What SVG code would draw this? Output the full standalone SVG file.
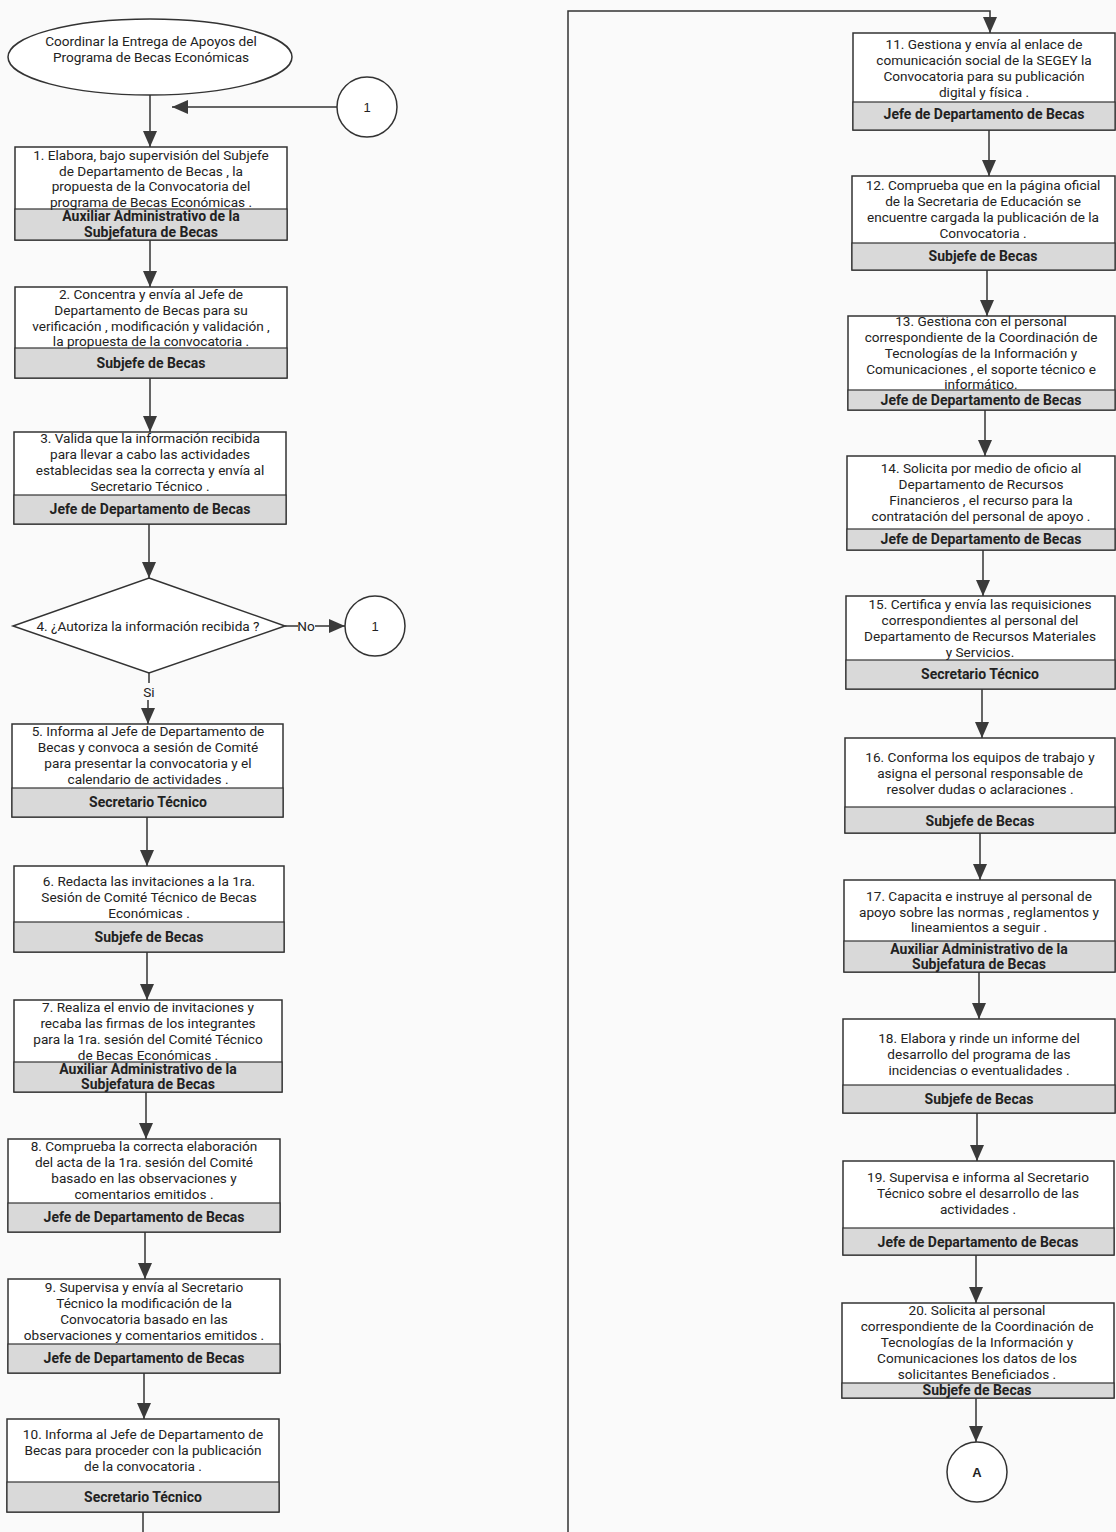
<svg xmlns="http://www.w3.org/2000/svg" width="1116" height="1532" viewBox="0 0 1116 1532">
<style>
.bg{fill:#fafafa}
.box{fill:#ffffff;stroke:#333;stroke-width:1.5}
.band{fill:#d9d9d9;stroke:#333;stroke-width:1.2}
.ln{fill:none;stroke:#333;stroke-width:1.5}
.t{font-family:Roboto,"Liberation Sans",sans-serif;font-size:13.6px;fill:#222;text-anchor:middle}
.b{font-family:Roboto,"Liberation Sans",sans-serif;font-size:14px;font-weight:bold;fill:#222;text-anchor:middle}
.c{font-family:"Liberation Sans",sans-serif;font-size:13px;fill:#222;text-anchor:middle}
</style>
<defs>
<marker id="ah" markerWidth="16" markerHeight="14" refX="16" refY="7" orient="auto" markerUnits="userSpaceOnUse">
<path d="M0,0 L16,7 L0,14 Z" fill="#3a3a3a"/>
</marker>
</defs>
<rect class="bg" x="0" y="0" width="1116" height="1532"/>

<g id="connectors">
<line class="ln" x1="150" y1="95" x2="150" y2="147" marker-end="url(#ah)"/>
<line class="ln" x1="337" y1="107" x2="172" y2="107" marker-end="url(#ah)"/>
<line class="ln" x1="150" y1="240" x2="150" y2="287" marker-end="url(#ah)"/>
<line class="ln" x1="150" y1="378" x2="150" y2="432" marker-end="url(#ah)"/>
<line class="ln" x1="149" y1="524" x2="149" y2="578" marker-end="url(#ah)"/>
<line class="ln" x1="285" y1="626" x2="298" y2="626"/>
<line class="ln" x1="315" y1="626" x2="345" y2="626" marker-end="url(#ah)"/>
<line class="ln" x1="149" y1="673" x2="149" y2="683"/>
<line class="ln" x1="148" y1="700" x2="148" y2="724" marker-end="url(#ah)"/>
<line class="ln" x1="147" y1="817" x2="147" y2="866" marker-end="url(#ah)"/>
<line class="ln" x1="147" y1="952" x2="147" y2="1000" marker-end="url(#ah)"/>
<line class="ln" x1="146" y1="1092" x2="146" y2="1139" marker-end="url(#ah)"/>
<line class="ln" x1="145" y1="1232" x2="145" y2="1279" marker-end="url(#ah)"/>
<line class="ln" x1="144" y1="1373" x2="144" y2="1419" marker-end="url(#ah)"/>
<line class="ln" x1="143" y1="1512" x2="143" y2="1532"/>
<path class="ln" d="M568,1532 V11 H990 V33" marker-end="url(#ah)"/>
<line class="ln" x1="989" y1="130" x2="989" y2="176" marker-end="url(#ah)"/>
<line class="ln" x1="987" y1="270" x2="987" y2="316" marker-end="url(#ah)"/>
<line class="ln" x1="985" y1="410" x2="985" y2="456" marker-end="url(#ah)"/>
<line class="ln" x1="983" y1="550" x2="983" y2="596" marker-end="url(#ah)"/>
<line class="ln" x1="982" y1="689" x2="982" y2="738" marker-end="url(#ah)"/>
<line class="ln" x1="980" y1="833" x2="980" y2="880" marker-end="url(#ah)"/>
<line class="ln" x1="979" y1="972" x2="979" y2="1019" marker-end="url(#ah)"/>
<line class="ln" x1="977" y1="1113" x2="977" y2="1161" marker-end="url(#ah)"/>
<line class="ln" x1="976" y1="1255" x2="976" y2="1303" marker-end="url(#ah)"/>
<line class="ln" x1="976" y1="1398" x2="976" y2="1442" marker-end="url(#ah)"/>
<text class="t" x="306" y="631">No</text>
<text class="t" x="149" y="697">Si</text>
</g>

<g id="start">
<ellipse cx="150" cy="57" rx="142" ry="38" fill="#fff" stroke="#333" stroke-width="1.5"/>
<text class="t" x="151" y="46">Coordinar la Entrega de Apoyos del</text>
<text class="t" x="151" y="62">Programa de Becas Económicas</text>
</g>

<g id="conn1top">
<circle cx="367" cy="107" r="30" fill="#fff" stroke="#333" stroke-width="1.5"/>
<text class="c" x="367" y="112">1</text>
</g>

<g id="n1">
<rect class="box" x="15" y="147" width="272" height="93"/>
<rect class="band" x="15" y="209" width="272" height="31"/>
<text class="t" x="151" y="160">1. Elabora, bajo supervisión del Subjefe</text>
<text class="t" x="151" y="176">de Departamento de Becas , la</text>
<text class="t" x="151" y="191">propuesta de la Convocatoria del</text>
<text class="t" x="151" y="207">programa de Becas Económicas .</text>
<text class="b" x="151" y="221">Auxiliar Administrativo de la</text>
<text class="b" x="151" y="237">Subjefatura de Becas</text>
</g>

<g id="n2">
<rect class="box" x="15" y="287" width="272" height="91"/>
<rect class="band" x="15" y="348" width="272" height="30"/>
<text class="t" x="151" y="299">2. Concentra y envía al Jefe de</text>
<text class="t" x="151" y="315">Departamento de Becas para su</text>
<text class="t" x="151" y="331">verificación , modificación y validación ,</text>
<text class="t" x="151" y="346">la propuesta de la convocatoria .</text>
<text class="b" x="151" y="368">Subjefe de Becas</text>
</g>

<g id="n3">
<rect class="box" x="14" y="432" width="272" height="92"/>
<rect class="band" x="14" y="495" width="272" height="29"/>
<text class="t" x="150" y="443">3. Valida que la información recibida</text>
<text class="t" x="150" y="459">para llevar a cabo las actividades</text>
<text class="t" x="150" y="475">establecidas sea la correcta y envía al</text>
<text class="t" x="150" y="491">Secretario Técnico .</text>
<text class="b" x="150" y="514">Jefe de Departamento de Becas</text>
</g>

<g id="n4">
<polygon points="149,578 285,626 149,673 13,626" fill="#fff" stroke="#333" stroke-width="1.5"/>
<text class="t" x="148" y="631">4. ¿Autoriza la información recibida ?</text>
</g>

<g id="conn1right">
<circle cx="375" cy="626" r="30" fill="#fff" stroke="#333" stroke-width="1.5"/>
<text class="c" x="375" y="631">1</text>
</g>

<g id="n5">
<rect class="box" x="12" y="724" width="271" height="93"/>
<rect class="band" x="12" y="788" width="271" height="29"/>
<text class="t" x="148" y="736">5. Informa al Jefe de Departamento de</text>
<text class="t" x="148" y="752">Becas y convoca a sesión de Comité</text>
<text class="t" x="148" y="768">para presentar la convocatoria y el</text>
<text class="t" x="148" y="784">calendario de actividades .</text>
<text class="b" x="148" y="807">Secretario Técnico</text>
</g>

<g id="n6">
<rect class="box" x="14" y="866" width="270" height="86"/>
<rect class="band" x="14" y="922" width="270" height="30"/>
<text class="t" x="149" y="886">6. Redacta las invitaciones a la 1ra.</text>
<text class="t" x="149" y="902">Sesión de Comité Técnico de Becas</text>
<text class="t" x="149" y="918">Económicas .</text>
<text class="b" x="149" y="942">Subjefe de Becas</text>
</g>

<g id="n7">
<rect class="box" x="14" y="1000" width="268" height="92"/>
<rect class="band" x="14" y="1062" width="268" height="30"/>
<text class="t" x="148" y="1012">7. Realiza el envio de invitaciones y</text>
<text class="t" x="148" y="1028">recaba las firmas de los integrantes</text>
<text class="t" x="148" y="1044">para la 1ra. sesión del Comité Técnico</text>
<text class="t" x="148" y="1060">de Becas Económicas .</text>
<text class="b" x="148" y="1074">Auxiliar Administrativo de la</text>
<text class="b" x="148" y="1089">Subjefatura de Becas</text>
</g>

<g id="n8">
<rect class="box" x="8" y="1139" width="272" height="93"/>
<rect class="band" x="8" y="1203" width="272" height="29"/>
<text class="t" x="144" y="1151">8. Comprueba la correcta elaboración</text>
<text class="t" x="144" y="1167">del acta de la 1ra. sesión del Comité</text>
<text class="t" x="144" y="1183">basado en las observaciones y</text>
<text class="t" x="144" y="1199">comentarios emitidos .</text>
<text class="b" x="144" y="1222">Jefe de Departamento de Becas</text>
</g>

<g id="n9">
<rect class="box" x="8" y="1279" width="272" height="94"/>
<rect class="band" x="8" y="1344" width="272" height="29"/>
<text class="t" x="144" y="1292">9. Supervisa y envía al Secretario</text>
<text class="t" x="144" y="1308">Técnico la modificación de la</text>
<text class="t" x="144" y="1324">Convocatoria basado en las</text>
<text class="t" x="144" y="1340">observaciones y comentarios emitidos .</text>
<text class="b" x="144" y="1363">Jefe de Departamento de Becas</text>
</g>

<g id="n10">
<rect class="box" x="7" y="1419" width="272" height="93"/>
<rect class="band" x="7" y="1482" width="272" height="30"/>
<text class="t" x="143" y="1439">10. Informa al Jefe de Departamento de</text>
<text class="t" x="143" y="1455">Becas para proceder con la publicación</text>
<text class="t" x="143" y="1471">de la convocatoria .</text>
<text class="b" x="143" y="1502">Secretario Técnico</text>
</g>

<g id="n11">
<rect class="box" x="853" y="33" width="262" height="97"/>
<rect class="band" x="853" y="102" width="262" height="28"/>
<text class="t" x="984" y="49">11. Gestiona y envía al enlace de</text>
<text class="t" x="984" y="65">comunicación social de la SEGEY la</text>
<text class="t" x="984" y="81">Convocatoria para su publicación</text>
<text class="t" x="984" y="97">digital y física .</text>
<text class="b" x="984" y="119">Jefe de Departamento de Becas</text>
</g>

<g id="n12">
<rect class="box" x="852" y="176" width="263" height="94"/>
<rect class="band" x="852" y="243" width="263" height="27"/>
<text class="t" x="983" y="190">12. Comprueba que en la página oficial</text>
<text class="t" x="983" y="206">de la Secretaria de Educación se</text>
<text class="t" x="983" y="222">encuentre cargada la publicación de la</text>
<text class="t" x="983" y="238">Convocatoria .</text>
<text class="b" x="983" y="261">Subjefe de Becas</text>
</g>

<g id="n13">
<rect class="box" x="848" y="316" width="267" height="94"/>
<rect class="band" x="848" y="390" width="267" height="20"/>
<text class="t" x="981" y="326">13. Gestiona con el personal</text>
<text class="t" x="981" y="342">correspondiente de la Coordinación de</text>
<text class="t" x="981" y="358">Tecnologías de la Información y</text>
<text class="t" x="981" y="374">Comunicaciones , el soporte técnico e</text>
<text class="t" x="981" y="389">informático.</text>
<text class="b" x="981" y="405">Jefe de Departamento de Becas</text>
</g>

<g id="n14">
<rect class="box" x="847" y="456" width="268" height="94"/>
<rect class="band" x="847" y="529" width="268" height="21"/>
<text class="t" x="981" y="473">14. Solicita por medio de oficio al</text>
<text class="t" x="981" y="489">Departamento de Recursos</text>
<text class="t" x="981" y="505">Financieros , el recurso para la</text>
<text class="t" x="981" y="521">contratación del personal de apoyo .</text>
<text class="b" x="981" y="544">Jefe de Departamento de Becas</text>
</g>

<g id="n15">
<rect class="box" x="846" y="596" width="269" height="93"/>
<rect class="band" x="846" y="660" width="269" height="29"/>
<text class="t" x="980" y="609">15. Certifica y envía las requisiciones</text>
<text class="t" x="980" y="625">correspondientes al personal del</text>
<text class="t" x="980" y="641">Departamento de Recursos Materiales</text>
<text class="t" x="980" y="657">y Servicios.</text>
<text class="b" x="980" y="679">Secretario Técnico</text>
</g>

<g id="n16">
<rect class="box" x="845" y="738" width="270" height="95"/>
<rect class="band" x="845" y="807" width="270" height="26"/>
<text class="t" x="980" y="762">16. Conforma los equipos de trabajo y</text>
<text class="t" x="980" y="778">asigna el personal responsable de</text>
<text class="t" x="980" y="794">resolver dudas o aclaraciones .</text>
<text class="b" x="980" y="826">Subjefe de Becas</text>
</g>

<g id="n17">
<rect class="box" x="844" y="880" width="271" height="92"/>
<rect class="band" x="844" y="941" width="271" height="31"/>
<text class="t" x="979" y="901">17. Capacita e instruye al personal de</text>
<text class="t" x="979" y="917">apoyo sobre las normas , reglamentos y</text>
<text class="t" x="979" y="932">lineamientos a seguir .</text>
<text class="b" x="979" y="954">Auxiliar Administrativo de la</text>
<text class="b" x="979" y="969">Subjefatura de Becas</text>
</g>

<g id="n18">
<rect class="box" x="843" y="1019" width="272" height="94"/>
<rect class="band" x="843" y="1085" width="272" height="28"/>
<text class="t" x="979" y="1043">18. Elabora y rinde un informe del</text>
<text class="t" x="979" y="1059">desarrollo del programa de las</text>
<text class="t" x="979" y="1075">incidencias o eventualidades .</text>
<text class="b" x="979" y="1104">Subjefe de Becas</text>
</g>

<g id="n19">
<rect class="box" x="843" y="1161" width="271" height="94"/>
<rect class="band" x="843" y="1228" width="271" height="27"/>
<text class="t" x="978" y="1182">19. Supervisa e informa al Secretario</text>
<text class="t" x="978" y="1198">Técnico sobre el desarrollo de las</text>
<text class="t" x="978" y="1214">actividades .</text>
<text class="b" x="978" y="1247">Jefe de Departamento de Becas</text>
</g>

<g id="n20">
<rect class="box" x="842" y="1303" width="272" height="95"/>
<rect class="band" x="842" y="1383" width="272" height="15"/>
<text class="t" x="977" y="1315">20. Solicita al personal</text>
<text class="t" x="977" y="1331">correspondiente de la Coordinación de</text>
<text class="t" x="977" y="1347">Tecnologías de la Información y</text>
<text class="t" x="977" y="1363">Comunicaciones los datos de los</text>
<text class="t" x="977" y="1379">solicitantes Beneficiados .</text>
<text class="b" x="977" y="1395">Subjefe de Becas</text>
</g>

<g id="connA">
<circle cx="977" cy="1472" r="30" fill="#fff" stroke="#333" stroke-width="1.5"/>
<text class="c" x="977" y="1477" font-weight="bold">A</text>
</g>
</svg>
